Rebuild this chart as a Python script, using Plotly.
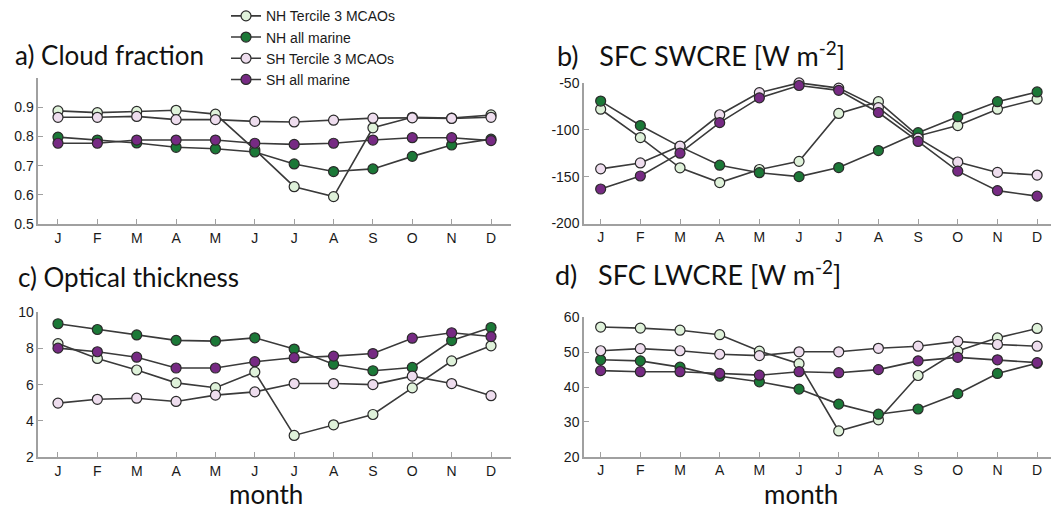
import plotly.graph_objects as go

# Month axis
months = list(range(1, 13))
month_labels = ["J", "F", "M", "A", "M", "J", "J", "A", "S", "O", "N", "D"]

# a) Cloud fraction
cf_nh_t3 = [0.888, 0.882, 0.886, 0.890, 0.877, 0.755, 0.628, 0.594, 0.830, 0.866, 0.863, 0.874]
cf_nh_all = [0.798, 0.788, 0.778, 0.763, 0.758, 0.747, 0.706, 0.680, 0.689, 0.732, 0.771, 0.791]
cf_sh_t3 = [0.866, 0.866, 0.869, 0.858, 0.858, 0.852, 0.850, 0.856, 0.863, 0.864, 0.862, 0.866]
cf_sh_all = [0.777, 0.777, 0.788, 0.788, 0.788, 0.777, 0.773, 0.777, 0.788, 0.796, 0.796, 0.786]

# b) Surface shortwave cloud radiative effect [W m-2]
sw_nh_t3 = [-78.1, -108.3, -140.6, -156.3, -142.4, -133.7, -82.6, -70.1, -106.6, -95.5, -78.1, -67.4]
sw_nh_all = [-69.4, -95.5, -118.0, -137.8, -145.8, -150.0, -140.3, -122.2, -103.1, -86.1, -70.1, -59.7]
sw_sh_t3 = [-141.7, -135.4, -117.4, -84.0, -60.4, -50.0, -55.6, -76.4, -109.0, -134.4, -145.5, -148.3]
sw_sh_all = [-163.2, -149.3, -125.0, -92.4, -66.0, -52.8, -58.0, -81.6, -112.5, -144.1, -164.9, -170.8]

# c) Optical thickness
ot_nh_t3 = [8.27, 7.45, 6.81, 6.10, 5.83, 6.70, 3.19, 3.78, 4.35, 5.82, 7.31, 8.15]
ot_nh_all = [9.37, 9.05, 8.75, 8.45, 8.41, 8.59, 7.97, 7.13, 6.77, 6.95, 8.44, 9.16]
ot_sh_t3 = [4.98, 5.19, 5.25, 5.07, 5.42, 5.60, 6.06, 6.06, 6.00, 6.47, 6.06, 5.39]
ot_sh_all = [8.02, 7.82, 7.52, 6.92, 6.92, 7.27, 7.49, 7.58, 7.72, 8.57, 8.87, 8.66]

# d) Surface longwave cloud radiative effect [W m-2]
lw_nh_t3 = [57.2, 56.9, 56.3, 55.0, 50.3, 46.7, 27.4, 30.6, 43.3, 50.3, 54.1, 56.8]
lw_nh_all = [47.8, 47.5, 45.7, 43.1, 41.5, 39.4, 35.1, 32.2, 33.7, 38.1, 43.9, 46.8]
lw_sh_t3 = [50.4, 51.0, 50.4, 49.4, 49.0, 50.1, 50.1, 51.1, 51.7, 53.1, 52.2, 51.7]
lw_sh_all = [44.7, 44.4, 44.4, 43.9, 43.4, 44.4, 44.1, 45.0, 47.5, 48.5, 47.8, 47.0]

series_names = ["NH Tercile 3 MCAOs", "NH all marine", "SH Tercile 3 MCAOs", "SH all marine"]
series_colors = ["#dff2da", "#1b7837", "#eeddee", "#762a83"]

panels = [
    ("x", "y", [cf_nh_t3, cf_nh_all, cf_sh_t3, cf_sh_all]),
    ("x2", "y2", [sw_nh_t3, sw_nh_all, sw_sh_t3, sw_sh_all]),
    ("x3", "y3", [ot_nh_t3, ot_nh_all, ot_sh_t3, ot_sh_all]),
    ("x4", "y4", [lw_nh_t3, lw_nh_all, lw_sh_t3, lw_sh_all]),
]

W, H = 1051, 510


def px_x(p):
    return p / W


def px_y(p):
    return 1 - p / H


fig = go.Figure()
for pi, (xa, ya, data) in enumerate(panels):
    for si, vals in enumerate(data):
        fig.add_trace(go.Scatter(
            x=months, y=vals, xaxis=xa, yaxis=ya,
            mode="lines+markers",
            name=series_names[si],
            showlegend=(pi == 0),
            line=dict(color="#3a3a3a", width=1.6),
            marker=dict(size=10, color=series_colors[si],
                        line=dict(color="#2a2a2a", width=1.2)),
            cliponaxis=False,
        ))

axis_common = dict(
    showline=True, linecolor="#a0a0a0", linewidth=1.5,
    ticks="inside", ticklen=5, tickcolor="#a0a0a0", tickwidth=1,
    showgrid=False, zeroline=False,
    tickfont=dict(family="Liberation Sans", size=14, color="#1a1a1a"),
)

xa_left = dict(domain=[px_x(38.3), px_x(510.7)], range=[0.5, 12.5])
xa_right = dict(domain=[px_x(584), 1.0], range=[0.58, 12.35])
for name, dom, anchor in [("xaxis", xa_left, "y"), ("xaxis2", xa_right, "y2"),
                          ("xaxis3", xa_left, "y3"), ("xaxis4", xa_right, "y4")]:
    fig.layout[name] = dict(axis_common, **dom, anchor=anchor,
                            tickmode="array", tickvals=months, ticktext=month_labels)

fig.layout["yaxis"] = dict(axis_common, anchor="x", range=[0.5, 1.0],
                           domain=[px_y(223), px_y(72.5)],
                           tickmode="array", tickvals=[0.5, 0.6, 0.7, 0.8, 0.9],
                           ticktext=["0.5", "0.6", "0.7", "0.8", "0.9"])
fig.layout["yaxis2"] = dict(axis_common, anchor="x2", range=[-200, -50],
                            domain=[px_y(222.5), px_y(77.3)],
                            tickmode="array", tickvals=[-200, -150, -100, -50],
                            ticktext=["-200", "-150", "-100", "-50"])
fig.layout["yaxis3"] = dict(axis_common, anchor="x3", range=[2, 10],
                            domain=[px_y(463.5), px_y(314.2)],
                            tickmode="array", tickvals=[2, 4, 6, 8, 10])
fig.layout["yaxis4"] = dict(axis_common, anchor="x4", range=[20, 60],
                            domain=[px_y(463.3), px_y(319.3)],
                            tickmode="array", tickvals=[20, 30, 40, 50, 60])

sp = "&nbsp;&nbsp;&nbsp;"
titles = [
    ("a) Cloud fraction", 13, 67, 26),
    ("b)" + sp + "SFC SWCRE [W m<sup>-2</sup>]", 555, 68, 27),
    ("c) Optical thickness", 16, 296, 26),
    ("d)" + sp + "SFC LWCRE [W m<sup>-2</sup>]", 553, 294, 27),
]
for text, x0, yb, fs in titles:
    fig.add_annotation(text=text, xref="paper", yref="paper",
                       x=px_x(x0), y=px_y(yb), xanchor="left", yanchor="bottom",
                       showarrow=False,
                       font=dict(family="Lato", size=fs, color="#111111"))

# x-axis label under the bottom row
for xc in (266, 801):
    fig.add_annotation(text="month", xref="paper", yref="paper",
                       x=px_x(xc), y=px_y(502), xanchor="center", yanchor="middle",
                       height=22, valign="middle",
                       showarrow=False, font=dict(family="Lato", size=26, color="#111111"))

fig.update_layout(
    width=W, height=H,
    margin=dict(l=0, r=0, t=0, b=0),
    paper_bgcolor="white", plot_bgcolor="white",
    showlegend=True,
    legend=dict(
        x=px_x(226), y=px_y(-8), xanchor="left", yanchor="top",
        bgcolor="rgba(0,0,0,0)",
        font=dict(family="Liberation Sans", size=14, color="#1a1a1a"),
        traceorder="normal",
        itemwidth=30,
    ),
)

fig.write_html("out.html")
